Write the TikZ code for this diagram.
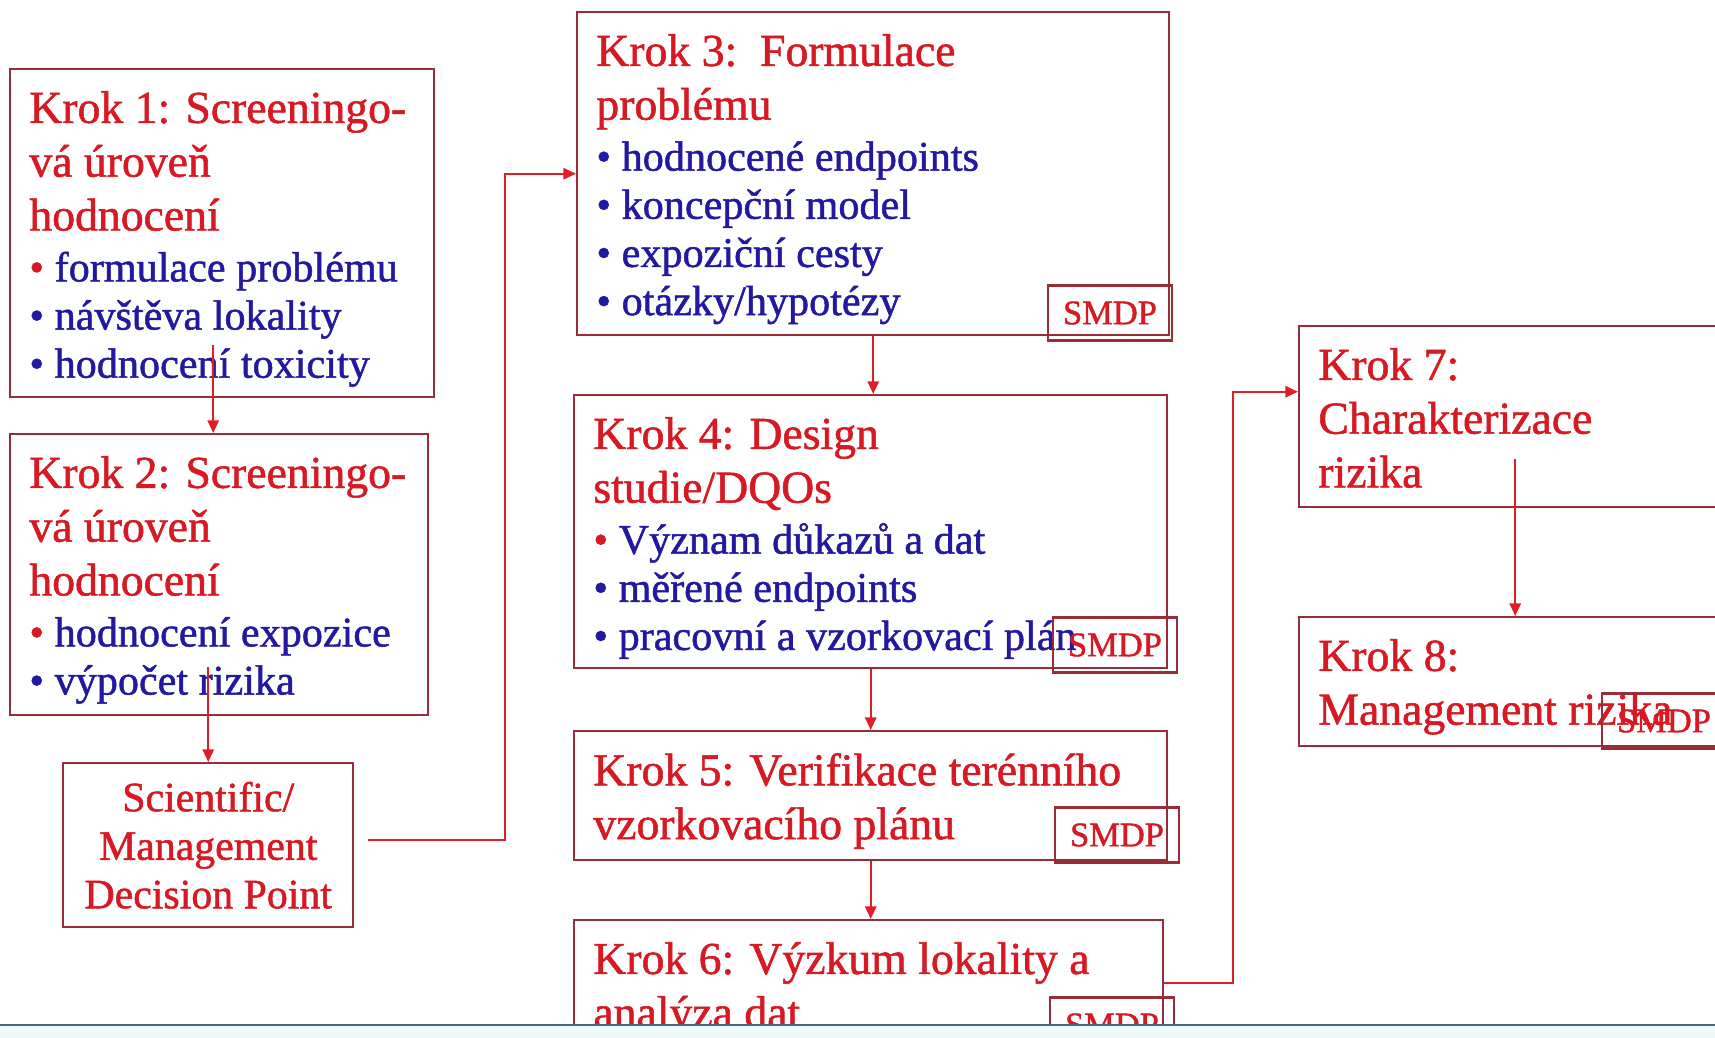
\documentclass[tikz,border=0pt]{standalone}
\usepackage{fontspec}
\setmainfont{Liberation Serif}[FakeBold=1.2]
\usepackage{xcolor}
\usepackage{tikz}
\usetikzlibrary{arrows.meta,positioning,calc}
\definecolor{boxline}{RGB}{150,45,55}
\definecolor{krokred}{RGB}{215,25,35}
\definecolor{arrred}{RGB}{225,30,40}
\definecolor{bulletblue}{RGB}{35,25,160}
\definecolor{footline}{RGB}{70,105,120}
\definecolor{footfill}{RGB}{236,248,250}
\newcommand{\krokhead}[1]{{\fontsize{13pt}{15pt}\selectfont\color{krokred}#1}}
\newcommand{\redbul}{{\color{krokred}•}}

\begin{document}
\begin{tikzpicture}[x=0.1mm,y=-0.1mm,
  krok/.style={draw=boxline,line width=0.7pt,anchor=north west,inner sep=0pt},
  ktext/.style={anchor=north west,align=left,inner xsep=5.6pt,inner ysep=6.4pt,text=bulletblue,font=\fontsize{12pt}{13.7pt}\selectfont},
  smdp/.style={draw=boxline,line width=0.7pt,minimum width=12.4mm,minimum height=5.5mm,inner sep=0pt,text=krokred,font=\fontsize{9.8pt}{10pt}\selectfont},
  arr/.style={-{Triangle[length=3.6pt,width=3.2pt]},line width=0.6pt,color=arrred},
]
\useasboundingbox (0,0) rectangle (1715,1038);
\clip (0,0) rectangle (1715,1038);
\fill[white] (0,0) rectangle (1715,1038);

% screening boxes
\node[krok,minimum width=42.4mm,minimum height=32.8mm] (k1) at (9,68) {};
\node[ktext] (k1t) at (k1.north west) {\krokhead{Krok 1: Screeningo-}\\[1.6pt]\krokhead{vá úroveň}\\[1.6pt]\krokhead{hodnocení}\\[0.8pt]\redbul{} formulace problému\\• návštěva lokality\\• hodnocení toxicity};

\node[krok,minimum width=41.8mm,minimum height=28.1mm] (k2) at (9,433) {};
\node[ktext] (k2t) at (k2.north west) {\krokhead{Krok 2: Screeningo-}\\[1.6pt]\krokhead{vá úroveň}\\[1.6pt]\krokhead{hodnocení}\\[0.8pt]\redbul{} hodnocení expozice\\• výpočet rizika};

\node[krok,minimum width=29mm,minimum height=16.4mm,align=center,text=krokred,font=\fontsize{11.9pt}{13.8pt}\selectfont] (dec) at (62,762) {Scientific/\\Management\\Decision Point};

% middle column
\node[krok,minimum width=59.2mm,minimum height=32.3mm] (k3) at (576,11) {};
\node[ktext] (k3t) at (k3.north west) {\krokhead{Krok 3:\ \ Formulace}\\[1.6pt]\krokhead{problému}\\[0.8pt]• hodnocené endpoints\\• koncepční model\\• expoziční cesty\\• otázky/hypotézy};

\node[krok,minimum width=59.3mm,minimum height=27.3mm] (k4) at (573,394) {};
\node[ktext] (k4t) at (k4.north west) {\krokhead{Krok 4: Design}\\[1.6pt]\krokhead{studie/DQOs}\\[0.8pt]\redbul{} Význam důkazů a dat\\• měřené endpoints\\• pracovní a vzorkovací plán};

\node[krok,minimum width=59.3mm,minimum height=12.9mm] (k5) at (573,730) {};
\node[ktext] (k5t) at (k5.north west) {\krokhead{Krok 5: Verifikace terénního}\\[1.6pt]\krokhead{vzorkovacího plánu}};

\node[krok,minimum width=58.9mm,minimum height=12.6mm] (k6) at (573,919) {};
\node[ktext] (k6t) at (k6.north west) {\krokhead{Krok 6: Výzkum lokality a}\\[1.6pt]\krokhead{analýza dat}};

% right column
\node[krok,minimum width=43.2mm,minimum height=18.1mm] (k7) at (1298,325) {};
\node[ktext] (k7t) at (k7.north west) {\krokhead{Krok 7:}\\[1.6pt]\krokhead{Charakterizace}\\[1.6pt]\krokhead{rizika}};

\node[krok,minimum width=43.2mm,minimum height=12.9mm] (k8) at (1298,616) {};
\node[ktext] (k8t) at (k8.north west) {\krokhead{Krok 8:}\\[1.6pt]\krokhead{Management rizika}};

% decision points
\node[smdp] (s3) at (1110,313) {SMDP};
\node[smdp] (s4) at (1115,645) {SMDP};
\node[smdp] (s5) at (1117,835) {SMDP};
\node[smdp] (s6) at (1112,1025) {SMDP};
\node[smdp] (s8) at (1664,721) {SMDP};

% arrows
\coordinate (s12) at ($(k1.south)+(-9,-53)$);
\draw[arr] (s12) -- (s12 |- k2.north);
\coordinate (s2d) at ($(k2.south)+(-11,-49)$);
\draw[arr] (s2d) -- (s2d |- dec.north);
\coordinate (sd3) at ($(dec.east)+(14,-5)$);
\draw[arr] (sd3) -| ($(k3.west)+(-71,0)$) -- (k3.west);
\draw[arr] (k3.south) -- (k3.south |- k4.north);
\draw[arr] (k4.south) -- (k4.south |- k5.north);
\draw[arr] (k5.south) -- (k5.south |- k6.north);
\coordinate (e7) at ($(k7.west)+(0,-25)$);
\draw[arr] (k6.east) -| ($(e7)+(-65,0)$) -- (e7);
\coordinate (s78) at ($(k7.south)+(0,-49)$);
\draw[arr] (s78) -- (s78 |- k8.north);

% slide footer rule
\fill[footfill] (0,1026) rectangle (1715,1038);
\draw[footline,line width=0.6pt] (0,1025) -- (1715,1025);
\end{tikzpicture}
\end{document}
